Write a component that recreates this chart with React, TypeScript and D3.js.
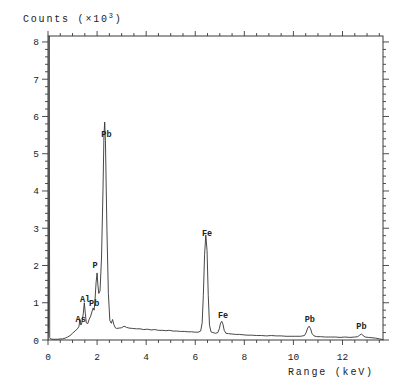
import React from "react";
import * as d3 from "d3";

// Spectrum: energy (keV) and counts (x10^3)
const energy = [
  0.0, 0.02, 0.045, 0.07, 0.1, 0.2, 0.3, 0.4, 0.5, 0.6, 0.7, 0.8, 0.9, 1.0, 1.1, 1.2,
  1.26, 1.3, 1.34, 1.38, 1.44, 1.48, 1.52, 1.56, 1.62, 1.68, 1.74, 1.8, 1.84, 1.88,
  1.92, 1.96, 2.0, 2.03, 2.07, 2.12, 2.18, 2.24, 2.28, 2.31, 2.34, 2.4, 2.46, 2.52,
  2.58, 2.63, 2.68, 2.74, 2.8, 2.9, 3.0, 3.1, 3.2, 3.3, 3.45, 3.6, 3.75, 3.9, 4.05,
  4.2, 4.35, 4.5, 4.65, 4.8, 4.95, 5.1, 5.25, 5.4, 5.55, 5.7, 5.85, 6.0, 6.12, 6.22,
  6.28, 6.33, 6.38, 6.43, 6.48, 6.53, 6.58, 6.64, 6.72, 6.82, 6.92, 6.98, 7.03, 7.08,
  7.13, 7.18, 7.25, 7.35, 7.5, 7.65, 7.8, 7.95, 8.1, 8.3, 8.5, 8.7, 8.9, 9.1, 9.3,
  9.5, 9.7, 9.9, 10.1, 10.3, 10.45, 10.52, 10.58, 10.64, 10.7, 10.76, 10.84, 10.95,
  11.1, 11.3, 11.5, 11.7, 11.9, 12.1, 12.3, 12.5, 12.62, 12.7, 12.77, 12.84, 12.92,
  13.05, 13.2, 13.35, 13.5, 13.65,
];
const counts = [
  0.0, 0.3, 8.3, 0.06, 0.03, 0.02, 0.02, 0.02, 0.03, 0.03, 0.05, 0.08, 0.12, 0.18, 0.24, 0.3,
  0.36, 0.55, 0.4, 0.46, 0.72, 1.0, 0.72, 0.46, 0.44, 0.56, 0.64, 0.78, 0.86, 0.8,
  1.12, 1.55, 1.8, 1.5, 1.25, 1.32, 2.2, 4.0, 5.5, 5.85, 5.35, 3.0, 1.25, 0.52,
  0.45, 0.55, 0.42, 0.33, 0.31, 0.32, 0.33, 0.37, 0.34, 0.32, 0.31, 0.3, 0.3, 0.28, 0.29,
  0.27, 0.28, 0.26, 0.26, 0.25, 0.26, 0.24, 0.24, 0.23, 0.23, 0.22, 0.22, 0.21, 0.21, 0.24,
  0.45, 1.2, 2.3, 2.82, 2.4, 1.2, 0.4, 0.22, 0.2, 0.18, 0.2, 0.3, 0.45, 0.5,
  0.42, 0.26, 0.18, 0.17, 0.16, 0.15, 0.15, 0.14, 0.13, 0.13, 0.12, 0.12, 0.11, 0.12, 0.11,
  0.11, 0.1, 0.1, 0.1, 0.1, 0.12, 0.2, 0.32, 0.37, 0.3, 0.17, 0.11, 0.09,
  0.09, 0.08, 0.08, 0.08, 0.07, 0.08, 0.07, 0.08, 0.09, 0.13, 0.16, 0.12, 0.08,
  0.07, 0.06, 0.05, 0.03, 0.01,
];

// Peak labels: text with anchor (keV, counts x10^3)
const peakNames = ["Pb", "P", "Al", "Pb", "As", "Fe", "Fe", "Pb", "Pb"];
const peakEnergy = [2.38, 1.92, 1.51, 1.88, 1.33, 6.48, 7.13, 10.67, 12.77];
const peakCounts = [5.45, 1.93, 1.02, 0.91, 0.48, 2.79, 0.59, 0.48, 0.3];

const xMajorTicks = [0, 2, 4, 6, 8, 10, 12];
const yMajorTicks = [0, 1, 2, 3, 4, 5, 6, 7, 8];

const W = 400;
const H = 389;
const X_MAX = 13.65;
const Y_MAX = 8.16;

export default function App() {
  const x = d3.scaleLinear().domain([0, X_MAX]).range([48, 383]);
  const y = d3.scaleLinear().domain([0, Y_MAX]).range([340, 36]);
  const pts: [number, number][] = energy.map((e, i) => [e, counts[i]]);
  const line = d3
    .line<[number, number]>()
    .x((d) => x(d[0]))
    .y((d) => y(Math.min(d[1], Y_MAX)));

  const xMinor = d3.range(0, X_MAX + 0.001, 0.5);
  const yMinor = d3.range(0, Y_MAX + 0.001, 0.2);
  const stroke = "#3a3a3a";
  const mono = "'Liberation Mono', 'DejaVu Sans Mono', monospace";
  const [x0, x1] = x.range();
  const [yb, yt] = y.range();

  return (
    <svg
      width={W}
      height={H}
      style={{ position: "absolute", left: 0, top: 0, background: "#fff" }}
      fontFamily={mono}
    >
      <rect width={W} height={H} fill="#fff" />
      <defs>
        <clipPath id="plotclip">
          <rect x={x0} y={yt} width={x1 - x0} height={yb - yt} />
        </clipPath>
      </defs>
      {/* frame */}
      <rect x={x0} y={yt} width={x1 - x0} height={yb - yt} fill="none" stroke={stroke} strokeWidth={1} />
      {/* x ticks bottom & top */}
      {xMinor.map((t, i) => {
        const major = Math.abs(t / 2 - Math.round(t / 2)) < 1e-6;
        const len = major ? 5 : 3;
        return (
          <g key={"xt" + i} stroke={stroke} strokeWidth={0.9}>
            <line x1={x(t)} x2={x(t)} y1={yb} y2={yb + len} />
            <line x1={x(t)} x2={x(t)} y1={yt} y2={yt - len} />
          </g>
        );
      })}
      {/* y ticks left & right */}
      {yMinor.map((t, i) => {
        const major = Math.abs(t - Math.round(t)) < 1e-6;
        const len = major ? 6 : 3;
        return (
          <g key={"yt" + i} stroke={stroke} strokeWidth={0.9}>
            <line x1={x0} x2={x0 - len} y1={y(t)} y2={y(t)} />
            <line x1={x1} x2={x1 + len} y1={y(t)} y2={y(t)} />
          </g>
        );
      })}
      {xMajorTicks.map((t) => (
        <text key={"xl" + t} x={x(t)} y={360} fontSize={9.5} textAnchor="middle" fill="#222">
          {t}
        </text>
      ))}
      {yMajorTicks.map((t) => (
        <text key={"yl" + t} x={39} y={y(t) + 3.5} fontSize={9.5} textAnchor="end" fill="#222">
          {t}
        </text>
      ))}
      {/* spectrum */}
      <path
        d={line(pts) || ""}
        fill="none"
        stroke="#333"
        strokeWidth={0.9}
        clipPath="url(#plotclip)"
        strokeLinejoin="round"
      />
      {/* peak labels */}
      {peakNames.map((n, i) => (
        <text
          key={"pk" + i}
          x={x(peakEnergy[i])}
          y={y(peakCounts[i])}
          fontSize={8.5}
          fontWeight="bold"
          textAnchor="middle"
          fill="#222"
        >
          {n}
        </text>
      ))}
      {/* axis titles */}
      <text x={23} y={22} fontSize={10} letterSpacing={1.8} fill="#222">
        Counts (×10<tspan dy={-4} fontSize={7}>3</tspan>
        <tspan dy={4}>)</tspan>
      </text>
      <text x={288} y={375} fontSize={10} letterSpacing={1.8} fill="#222">
        Range (keV)
      </text>
    </svg>
  );
}
